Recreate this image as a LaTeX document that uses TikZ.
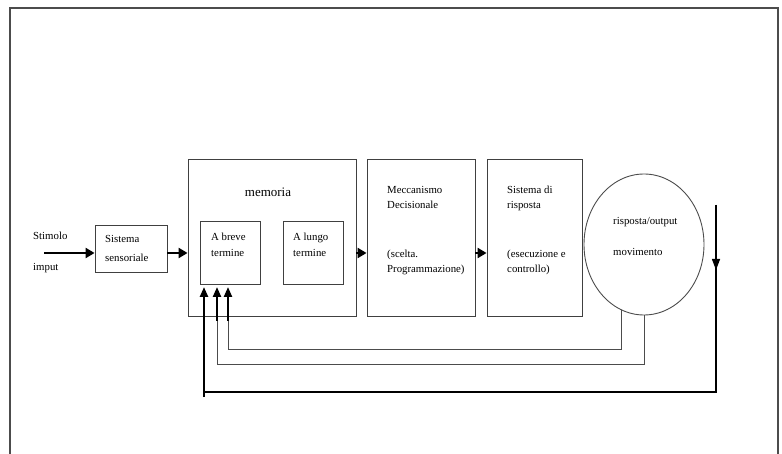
\documentclass[tikz,border=0pt]{standalone}
\usepackage{fontspec}
\setmainfont{Liberation Serif}
\usetikzlibrary{arrows.meta,shapes.geometric}
\begin{document}
\begin{tikzpicture}[x=1pt,y=-1pt,
  box/.style={draw=black!75,line width=0.9pt,inner sep=0pt,rectangle},
  lbl/.style={anchor=base west,inner sep=0pt,font=\fontsize{10.8}{12}\selectfont},
  bigarrow/.style={line width=2.4pt,-{Triangle[length=9pt,width=10pt]}},
  fb/.style={draw=black!70,line width=1pt},
  fbtip/.style={-{Triangle[length=10pt,width=8pt]}}]
\useasboundingbox (0,0) rectangle (782,454);
% outer frame
\draw[black!70,line width=1.4pt] (10,454) -- (10,8) -- (778,8) -- (778,454);
% boxes
\node[box,minimum width=72pt,minimum height=47pt] (sens) at (131,248.5) {};
\node[box,minimum width=168pt,minimum height=157pt] (mem) at (272,237.5) {};
\node[box,minimum width=60pt,minimum height=63pt] (breve) at (230,252.5) {};
\node[box,minimum width=60pt,minimum height=63pt] (lungo) at (313,252.5) {};
\node[box,minimum width=108pt,minimum height=157pt] (mecc) at (421,237.5) {};
\node[box,minimum width=95pt,minimum height=157pt] (risp) at (534.5,237.5) {};
\node[draw=black!70,line width=0.9pt,ellipse,inner sep=0pt,minimum width=120pt,minimum height=141pt] (resp) at (644,244.5) {};
% texts
\node[lbl] (tstim) at (33,239.5) {Stimolo};
\node[lbl] (timput) at (33,270.5) {imput};
\node[lbl] (tsens1) at (105,242.5) {Sistema};
\node[lbl] (tsens2) at (105,261.5) {sensoriale};
\node[anchor=base,inner sep=0pt,font=\fontsize{13}{15}\selectfont] (tmem) at (268,196.5) {memoria};
\node[lbl] (tbr1) at (211,240.5) {A breve};
\node[lbl] (tbr2) at (211,256.5) {termine};
\node[lbl] (tlu1) at (293,240.5) {A lungo};
\node[lbl] (tlu2) at (293,256.5) {termine};
\node[lbl] (tme1) at (387,193.5) {Meccanismo};
\node[lbl] (tme2) at (387,208.5) {Decisionale};
\node[lbl] (tme3) at (387,257.5) {(scelta.};
\node[lbl] (tme4) at (387,272.5) {Programmazione)};
\node[lbl] (tri1) at (507,193.5) {Sistema di};
\node[lbl] (tri2) at (507,208.5) {risposta};
\node[lbl] (tri3) at (507,257.5) {(esecuzione e};
\node[lbl] (tri4) at (507,272.5) {controllo)};
\node[lbl] (tre1) at (613,224.5) {risposta/output};
\node[lbl] (tre2) at (613,255.5) {movimento};
% forward arrows
\coordinate (ylev) at (0,253);
\coordinate (stimstart) at (44,253);
\draw[bigarrow] (stimstart) -- (stimstart -| sens.west);
\draw[bigarrow] (sens.east |- ylev) -- (mem.west |- ylev);
\draw[bigarrow] (mem.east |- ylev) -- (mecc.west |- ylev);
\draw[bigarrow] (mecc.east |- ylev) -- (risp.west |- ylev);
% feedback
\coordinate (t1) at (228,287);
\coordinate (t2) at (217,287);
\coordinate (t3) at (204,287);
\coordinate (fbA) at (0,350);
\coordinate (fbB) at (0,365);
\coordinate (fbC) at (0,392);
\coordinate (d1) at (716,205);
\coordinate (dmid) at (716,270);
\draw[fb] (resp.251.6) -- (resp.251.6 |- fbA) -- (t1 |- fbA) -- ++(0,-30);
\draw[fb] (resp.south) -- (resp.south |- fbB) -- (t2 |- fbB) -- ++(0,-45);
\draw[line width=2.2pt,fbtip] (t1 |- fbA) ++(0,-29) -- (t1);
\draw[line width=2.2pt,fbtip] (t2 |- fbB) ++(0,-44) -- (t2);
\draw[line width=1.3pt] (d1) -- (d1 |- fbC) -- (t3 |- fbC);
\draw[line width=1.3pt,-{Triangle[length=11pt,width=8pt]}] (d1) -- (dmid);
\draw[line width=2.4pt,fbtip] (t3 |- fbC) ++(0,5) -- (t3);
\end{tikzpicture}
\end{document}
